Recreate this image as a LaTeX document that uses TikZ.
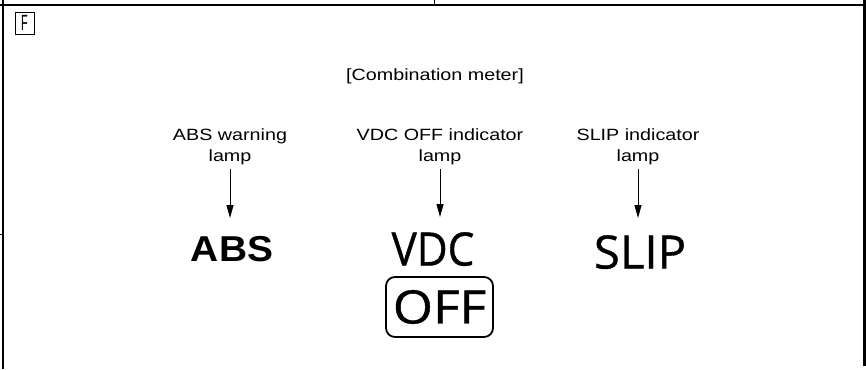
\documentclass[tikz,border=0pt]{standalone}
\usepackage{fontspec}
\setmainfont{Liberation Sans}
\newfontfamily\labfont[FakeStretch=1.21]{Liberation Sans}
\newfontfamily\absfont[FakeStretch=1.08]{Liberation Sans}
\newfontfamily\humfont[FakeBold=0.8]{Open Sans}
\usetikzlibrary{arrows.meta}
\tikzset{
  lab/.style={anchor=north, inner xsep=0pt, inner ysep=4pt, align=center,
    font=\labfont\fontsize{16.3}{21}\selectfont},
  bigtxt/.style={anchor=north, inner sep=0pt, font=\humfont\fontsize{46}{46}\selectfont},
  abstxt/.style={anchor=north, inner sep=0pt, font=\absfont\bfseries\fontsize{36}{36}\selectfont},
  offbox/.style={draw, line width=1.8pt, rounded corners=9pt, minimum width=107pt,
    minimum height=60pt, inner sep=0pt, font=\humfont\fontsize{46}{46}\selectfont},
  fbox/.style={draw, line width=0.9pt, minimum width=19pt, minimum height=22pt, inner sep=0pt,
    font=\fontsize{22}{22}\selectfont},
  arr/.style={line width=1pt, -{Triangle[length=13pt,width=7pt]}},
  frame/.style={line width=1.8pt},
}
\begin{document}
\begin{tikzpicture}[x=1pt,y=-1pt]
\useasboundingbox (0,0) rectangle (866,369);
\fill[white] (0,0) rectangle (866,369);
% frame
\draw[frame] (0,5) -- (863,5);
\draw[frame] (3.2,0) -- (3.2,369);
\draw[line width=3pt] (864,0) -- (864,366);
\draw[line width=1pt] (434,0) -- (434,5);
\draw[line width=1pt] (0,234.5) -- (3,234.5);
% F box
\node[fbox] (fb) at (24.5,23) {\scalebox{0.5}[1]{F}};
% title
\node[lab] (cm) at (435,64) {[Combination meter]};
% labels
\node[lab] (l1) at (230,124) {ABS warning\\lamp};
\node[lab] (l2) at (440,124) {VDC OFF indicator\\lamp};
\node[lab] (l3) at (638,124) {SLIP indicator\\lamp};
% lamps
\node[abstxt] (abs) at (232,236) {ABS};
\node[bigtxt] (vdc) at (433,232) {\scalebox{0.92}[1]{VDC}};
\node[bigtxt] (slip) at (640,235) {\scalebox{1.03}[1]{SLIP}};
\node[offbox] (off) at (439.5,307) {\scalebox{1.12}[1]{OFF}};
% arrows
\draw[arr, shorten >=18pt] (l1.south) -- (l1.south |- abs.north);
\draw[arr, shorten >=15pt] (l2.south) -- (l2.south |- vdc.north);
\draw[arr, shorten >=17pt] (l3.south) -- (l3.south |- slip.north);
\end{tikzpicture}
\end{document}
